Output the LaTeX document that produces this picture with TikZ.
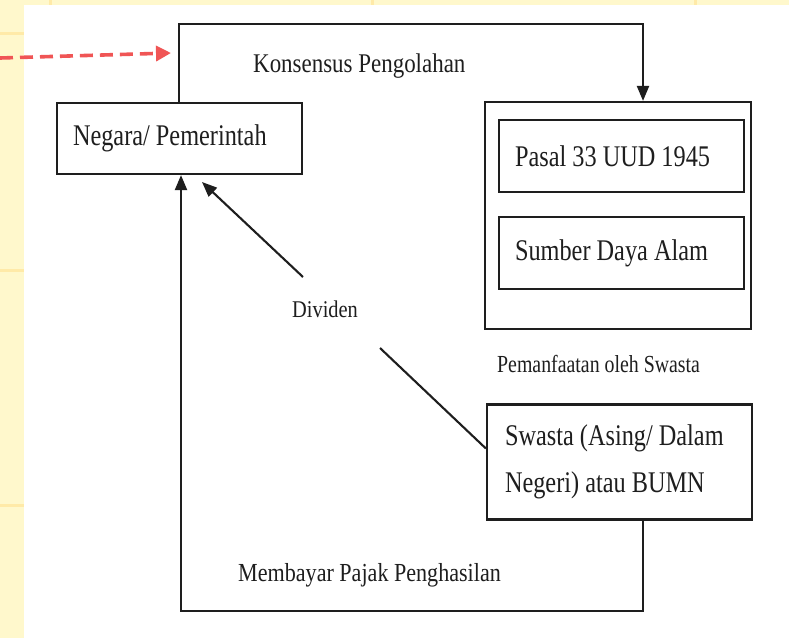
\documentclass[tikz,border=0pt]{standalone}
\usepackage{fontspec}
\setmainfont{Liberation Serif}
\newfontfamily\boxfont[FakeStretch=0.81]{Liberation Serif}
\newfontfamily\labfont[FakeStretch=0.85]{Liberation Serif}
\usetikzlibrary{arrows.meta}

\definecolor{slide}{HTML}{FFF8CC}
\definecolor{slideline}{HTML}{FFEAA8}
\definecolor{ink}{HTML}{1E1E1E}
\definecolor{pointer}{HTML}{F05555}

% plain interword spaces inside aligned nodes
\newcommand{\natsp}{\spaceskip=0pt\xspaceskip=0pt\relax}

\tikzset{
  frame/.style={draw=ink, line width=2.2pt, rectangle, text=ink,
    font=\boxfont\fontsize{30}{47}\selectfont, align=left, inner ysep=0pt},
  flow/.style={draw=ink, line width=2.1pt},
  tip/.style={-{Triangle[length=15pt,width=12pt]}},
  lab/.style={text=ink, inner sep=0pt, anchor=base west},
}

\begin{document}
\begin{tikzpicture}[x=1pt,y=-1pt]
\useasboundingbox (0,0) rectangle (789,638);

% slide background with its faint grid
\fill[slide] (0,0) rectangle (789,638);
\foreach \yy in {33,270,505} \fill[slideline] (0,\yy-1.5) rectangle (24,\yy+1.5);
\foreach \xx in {50,372,695} \fill[slideline] (\xx-1.5,0) rectangle (\xx+1.5,5);
\fill[white] (24,5) rectangle (789,638);

% boxes
\node[frame, minimum width=245pt, minimum height=71pt, text width=213pt, inner xsep=16pt]
  (negara) at (179.5,138.5) {\natsp Negara/ Pemerintah};
\node[draw=ink, line width=2.2pt, rectangle, minimum width=266pt, minimum height=227pt]
  (sda) at (618,215.5) {};
\node[frame, minimum width=245pt, minimum height=72pt, text width=213pt, inner xsep=16pt]
  (pasal) at (621.5,156) {\natsp Pasal 33 UUD 1945};
\node[frame, minimum width=245pt, minimum height=72pt, text width=213pt, inner xsep=16pt]
  (alam) at (621.5,253) {\natsp Sumber Daya Alam};
\node[frame, minimum width=265pt, minimum height=115pt, text width=229pt, inner xsep=18pt]
  (swasta) at (619.5,462) {\natsp Swasta (Asing/ Dalam\\\natsp Negeri) atau BUMN};

% labels
\node[lab, font=\labfont\fontsize{27}{27}\selectfont] (konsensus) at (253,72) {Konsensus Pengolahan};
\node[lab, font=\labfont\fontsize{26}{26}\selectfont] (pajak) at (238,581) {Membayar Pajak Penghasilan};
\node[lab, font=\labfont\fontsize{24}{24}\selectfont] (dividen) at (292,317) {Dividen};
\node[lab, font=\boxfont\fontsize{24.5}{24.5}\selectfont] (manfaat) at (497,372) {Pemanfaatan oleh Swasta};

% route corners
\coordinate (t1) at (179,24);
\coordinate (t2) at (643,24);
\coordinate (b1) at (643,611);
\coordinate (b2) at (181,611);

% Negara -> natural resources
\draw[flow, tip] (negara.north -| t1) -- (t1) -- (t2) -- (sda.north -| t2);
% tax back to the state
\draw[flow, tip] (swasta.south -| b1) -- (b1) -- (b2) -- (negara.south -| b2);

% dividend line, interrupted by its label
\coordinate (dtip) at (202,182);
\coordinate (da) at (303,277);
\coordinate (db) at (380,348);
\draw[flow] ([yshift=13.5pt]swasta.west) -- (db);
\draw[flow, tip] (da) -- (dtip);

% red pointer
\coordinate (r0) at (0,58);
\coordinate (r1) at (171,53);
\draw[pointer, line width=3.6pt, dash pattern=on 13pt off 7pt,
  -{Triangle[length=15pt,width=15pt]}] (r0) -- (r1);
\end{tikzpicture}
\end{document}
